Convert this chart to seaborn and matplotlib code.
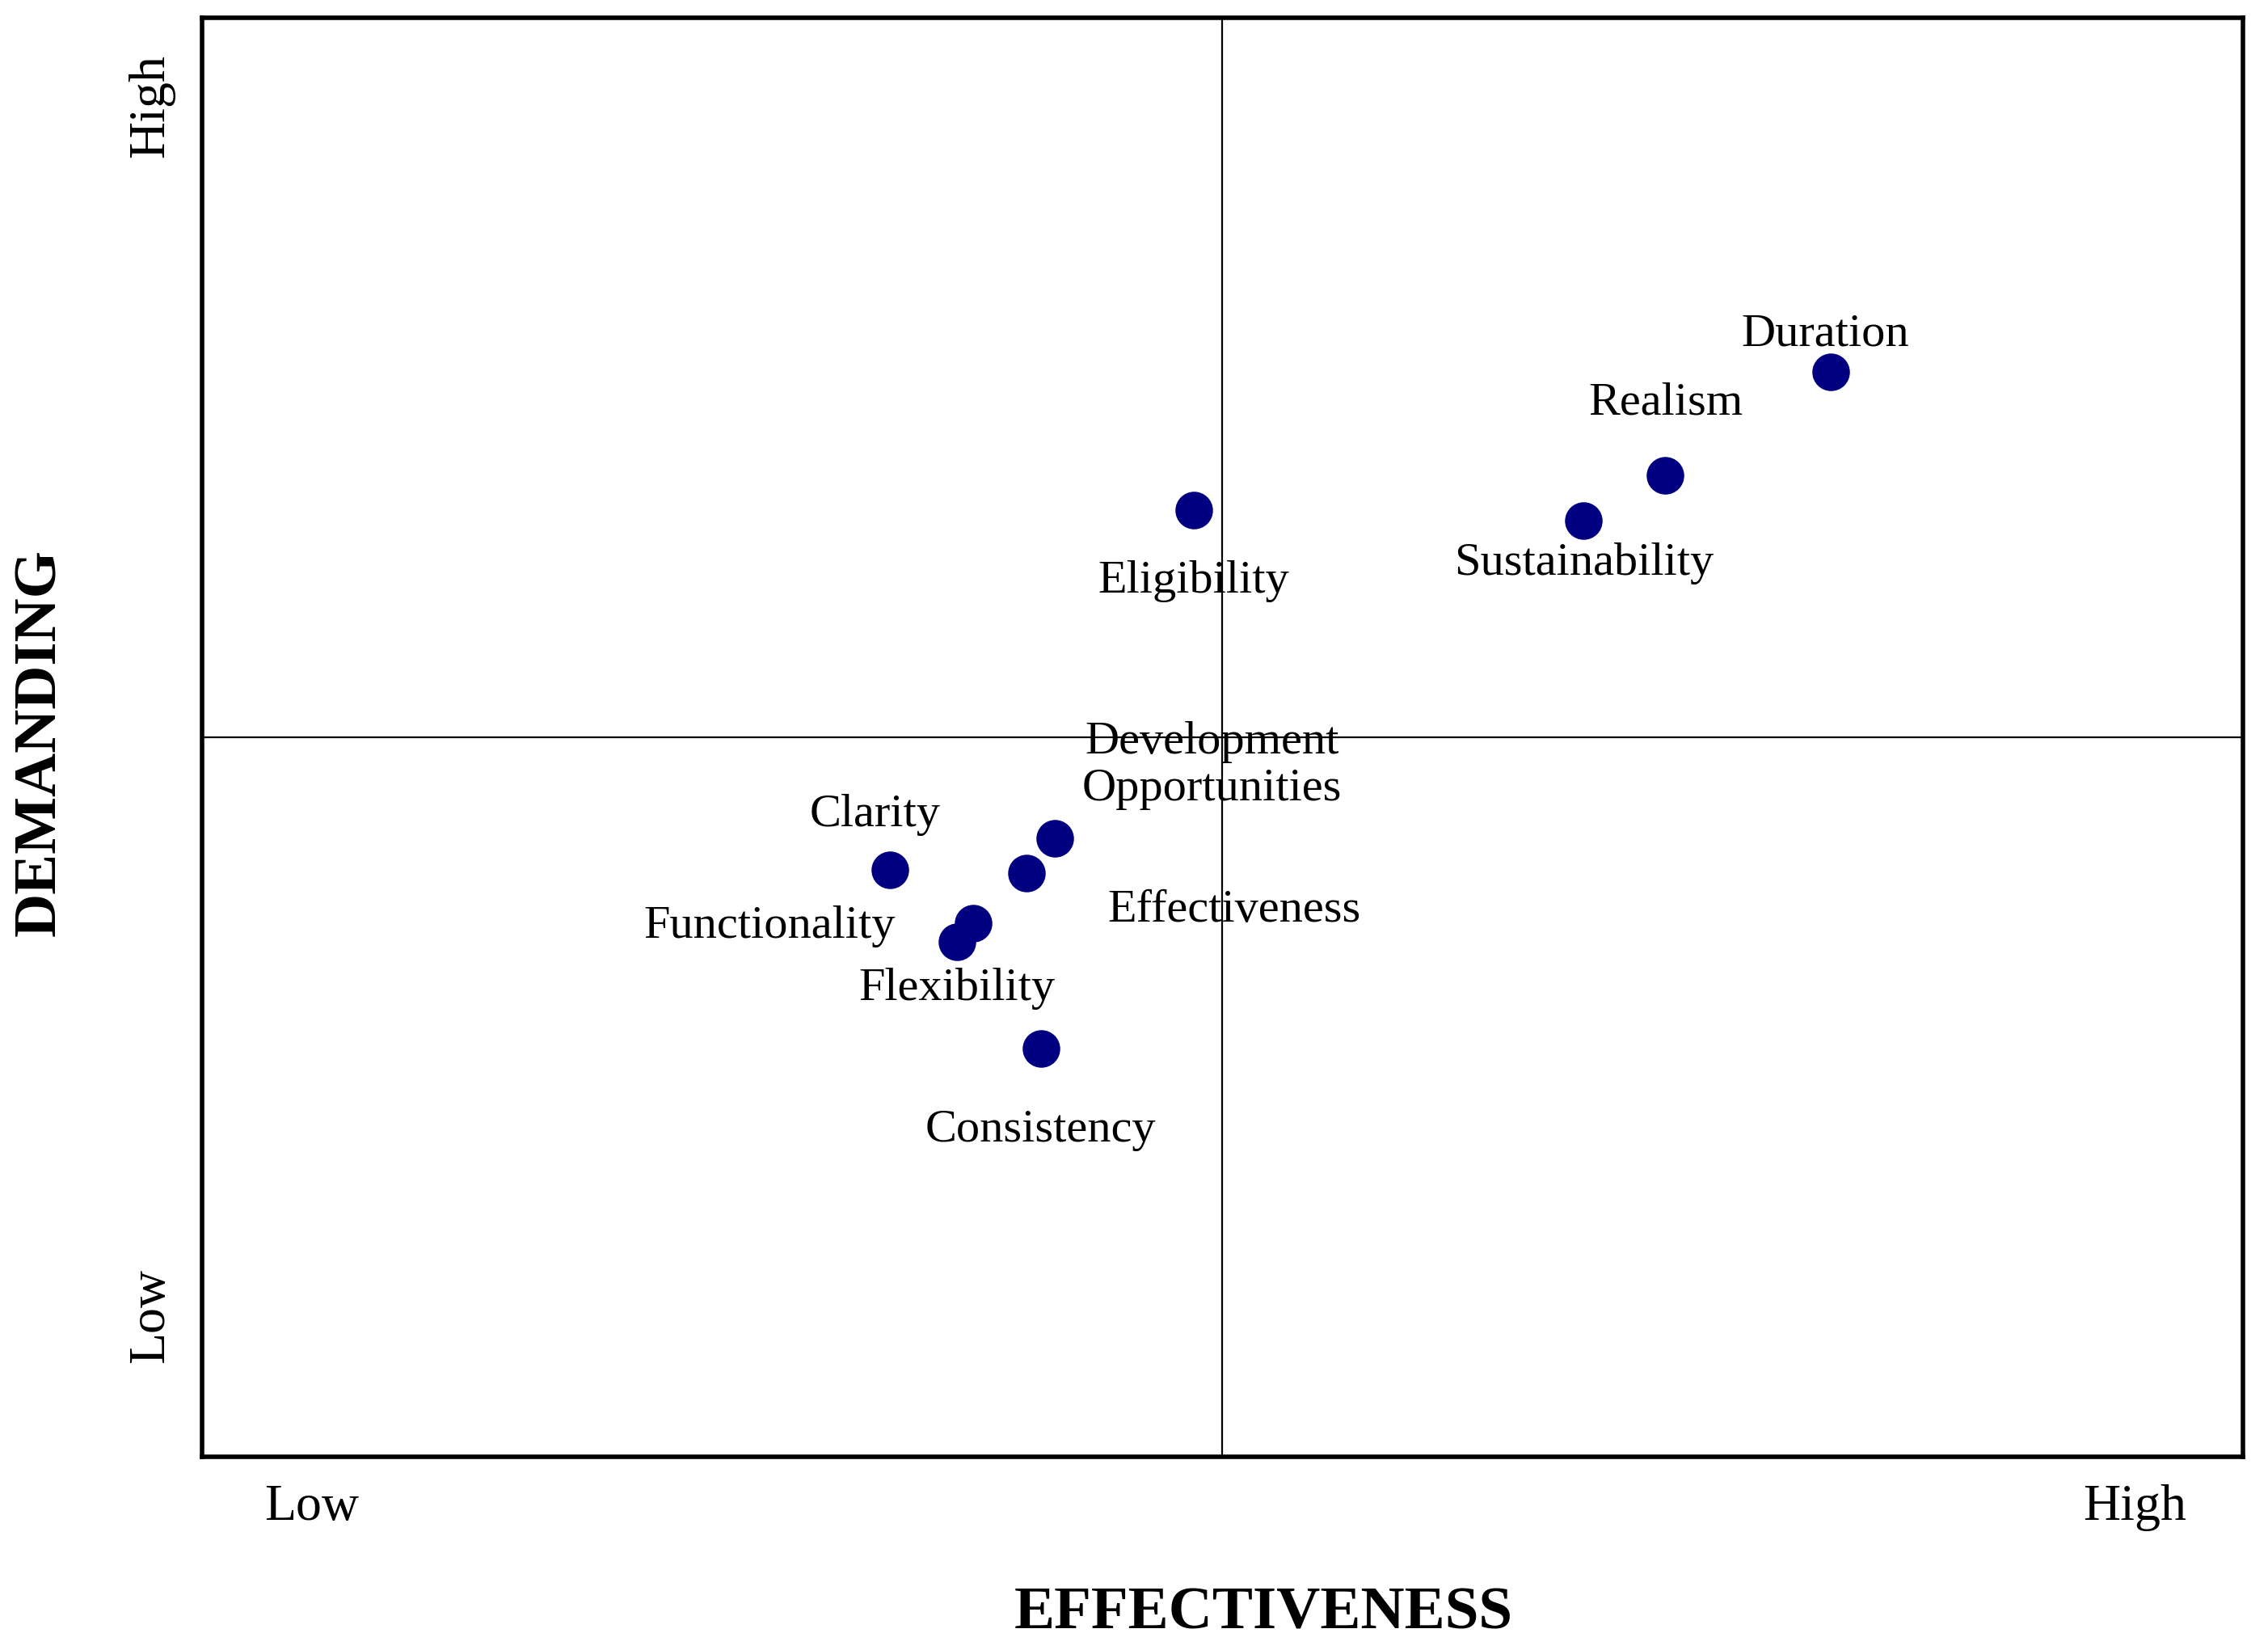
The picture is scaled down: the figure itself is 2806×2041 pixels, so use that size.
import matplotlib
matplotlib.use("Agg")
import matplotlib.pyplot as plt
import seaborn as sns
import pandas as pd

labels = ["Duration", "Realism", "Sustainability", "Eligibility",
          "Development\nOpportunities", "Effectiveness", "Clarity",
          "Functionality", "Flexibility", "Consistency"]
effectiveness = [7.98, 7.17, 6.77, 4.86, 4.18, 4.04, 3.37, 3.78, 3.70, 4.11]
demanding = [7.54, 6.82, 6.51, 6.58, 4.30, 4.06, 4.08, 3.71, 3.58, 2.84]
x_tick_pos = [0.54, 9.47]
y_tick_pos = [0.98, 9.39]
tick_labels = ["Low", "High"]

offsets = {"Duration": (-2.6, 16.8), "Realism": (0, 32.4), "Sustainability": (0, -19.4),
           "Eligibility": (0, -31.8), "Development\nOpportunities": (70, 32.4),
           "Effectiveness": (92.7, -16.8), "Clarity": (-6.5, 24.6),
           "Functionality": (-90.7, -1.3), "Flexibility": (0, -20.7),
           "Consistency": (0, -36.3)}

df = pd.DataFrame({"label": labels, "x": effectiveness, "y": demanding})
plt.rcParams["font.family"] = "Liberation Serif"
fig = plt.figure(figsize=(14.03, 10.205), dpi=200)
ax = fig.add_axes([0.089, 0.117, 0.9, 0.872])
sns.scatterplot(data=df, x="x", y="y", ax=ax, s=240, color="#000080",
                edgecolor="#000080", zorder=3)
ax.set_xlim(0, 10)
ax.set_ylim(0, 10)
ax.axvline(5, color="black", lw=0.8)
ax.axhline(5, color="black", lw=0.8)
for _, r in df.iterrows():
    ax.annotate(r["label"], (r["x"], r["y"]), xytext=offsets[r["label"]],
                textcoords="offset points", ha="center", va="center",
                fontsize=21, linespacing=1.15)
ax.set_xticks(x_tick_pos)
ax.set_xticklabels(tick_labels, fontsize=23)
ax.set_yticks(y_tick_pos)
ax.set_yticklabels(tick_labels, fontsize=23, rotation=90, va="center")
ax.tick_params(length=0, pad=12)
for s in ax.spines.values():
    s.set_linewidth(2)
ax.set_xlabel("")
ax.set_ylabel("")
fig.text(0.557, 0.022, "EFFECTIVENESS", ha="center", va="center",
         fontsize=27, fontweight="bold")
fig.text(0.018, 0.55, "DEMANDING", ha="center", va="center",
         fontsize=27, fontweight="bold", rotation=90)
fig.savefig("out.png", dpi=200)
